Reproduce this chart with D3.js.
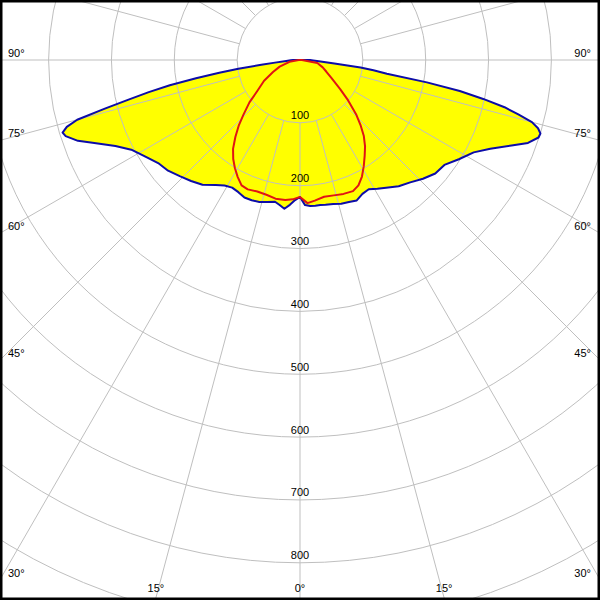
<!DOCTYPE html>
<html>
<head>
<meta charset="utf-8">
<script src="https://cdn.jsdelivr.net/npm/d3@7"></script>
<style>
  html, body { margin: 0; padding: 0; background: #fff; }
  svg { display: block; }
  text { font-family: "Liberation Sans", Arial, sans-serif; font-size: 11px; fill: #000; }
  .labels { opacity: 0.999; }
</style>
</head>
<body>
<svg id="chart" width="600" height="600"></svg>
<script>
// ---- data (gamma in degrees from nadir, intensity in cd/klm) ----
const blueAngles = [0,2,4,6,8,10,13,16,19,22,25,28,31,34,38,42,46,50,54,58,62,65,68,70,72,73,74,75,76,77,78,79,80,81,82,83,84,86,88,90];
const blueLeft   = [218,223,231,238,233,229,232,235,236,236,232,230,233,240,252,259,266,274,279,290,304,324,353,376,392,395,386,367,320,280,246,211,168,130,99,62,40,22,15,11];
const blueRight  = [218,231,233,233,233,234,235,238,239,241,235,233,239,245,255,262,272,281,284,298,313,334,363,386,399,400,394,382,358,334,298,259,205,140,118,97,55,30,21,16];

const redAngles = [0,3,6,10,14,18,22,25,28,31,34,37,40,43,46,50,54,60,66,72,80,90];
const redLeft   = [218,222,224,224,221,220,222,220,211,201,190,177,160,143,125,105,84,66,47,34,17,2];
const redRight  = [218,228,225,221,222,224,225,220,210,197,184,172,158,141,124,100,79,58,46,38,28,3];

const ringValues  = [100,200,300,400,500,600,700,800,900,1000];
const ringLabels  = ["100","200","300","400","500","600","700","800"];
const angleTicks  = [90,75,60,45,30,15,0];
const angleLabels = ["90°","75°","60°","45°","30°","15°","0°"];

// ---- layout ----
const W = 600, H = 600, cx = 300, cy = 60;
const rad = Math.PI / 180;
const svg = d3.select("#chart");
svg.append("rect").attr("width", W).attr("height", H).attr("fill", "#fff");

const r = d3.scaleLinear().domain([0, 100]).range([0, 62.85]);
const g = svg.append("g").attr("transform", `translate(${cx},${cy})`);

function polyPoints(angles, left, right) {
  const pts = [];
  angles.forEach((a, i) => pts.push([Math.PI + a * rad, left[i]]));
  for (let i = angles.length - 1; i >= 0; i--) pts.push([Math.PI - angles[i] * rad, right[i]]);
  return pts;
}
const radial = d3.lineRadial().angle(d => d[0]).radius(d => r(d[1])).curve(d3.curveLinearClosed);

const bluePts = polyPoints(blueAngles, blueLeft, blueRight);
const redPts  = polyPoints(redAngles, redLeft, redRight);

// fill
g.append("path").attr("d", radial(bluePts)).attr("fill", "#ffff00").attr("stroke", "none");
g.append("path").attr("d", radial(redPts)).attr("fill", "#ffff00").attr("stroke", "none");

// grid
const gridColor = "#bfbfbf";
g.selectAll("circle.ring").data(ringValues).join("circle")
  .attr("class", "ring").attr("r", d => r(d))
  .attr("fill", "none").attr("stroke", gridColor).attr("stroke-width", 1);
const spokes = d3.range(0, 360, 15);
g.selectAll("line.spoke").data(spokes).join("line")
  .attr("class", "spoke")
  .attr("x1", d => d3.pointRadial(d * rad, r(100))[0])
  .attr("y1", d => d3.pointRadial(d * rad, r(100))[1])
  .attr("x2", d => d3.pointRadial(d * rad, r(1400))[0])
  .attr("y2", d => d3.pointRadial(d * rad, r(1400))[1])
  .attr("stroke", gridColor).attr("stroke-width", 1);

// ring labels
const gl = g.append("g").attr("class", "labels");
gl.selectAll("text.ringlab").data(ringLabels).join("text")
  .attr("class", "ringlab")
  .attr("x", 0).attr("y", d => r(+d) - 3.5)
  .attr("text-anchor", "middle").attr("fill", "#000").text(d => d);

// angle labels
const al = svg.append("g").attr("class", "labels");
const edge = 598;
angleTicks.forEach((a, i) => {
  const sides = a === 0 ? [1] : [-1, 1];
  sides.forEach(s => {
    const dx = Math.sin(a * rad), dy = Math.cos(a * rad);
    const tSide = dx > 1e-9 ? (cx) / dx : Infinity;
    const tBot = dy > 1e-9 ? (edge - cy) / dy : Infinity;
    let x, y, anchor;
    if (tSide < tBot) {
      y = cy + tSide * dy - 3;
      if (s < 0) { x = 8; anchor = "start"; } else { x = 591; anchor = "end"; }
    } else {
      x = cx + s * tBot * dx; y = 592; anchor = "middle";
    }
    al.append("text").attr("x", x).attr("y", y).attr("text-anchor", anchor)
      .attr("fill", "#000").text(angleLabels[i]);
  });
});

// curves
g.append("path").attr("d", radial(bluePts)).attr("fill", "none")
  .attr("stroke", "#0c0ca8").attr("stroke-width", 2).attr("stroke-linejoin", "round");
g.append("path").attr("d", radial(redPts)).attr("fill", "none")
  .attr("stroke", "#e01414").attr("stroke-width", 2).attr("stroke-linejoin", "round");

// border
svg.append("rect").attr("x", 0).attr("y", 0).attr("width", W).attr("height", H)
  .attr("fill", "none").attr("stroke", "#000").attr("stroke-width", 5);
</script>
</body>
</html>
